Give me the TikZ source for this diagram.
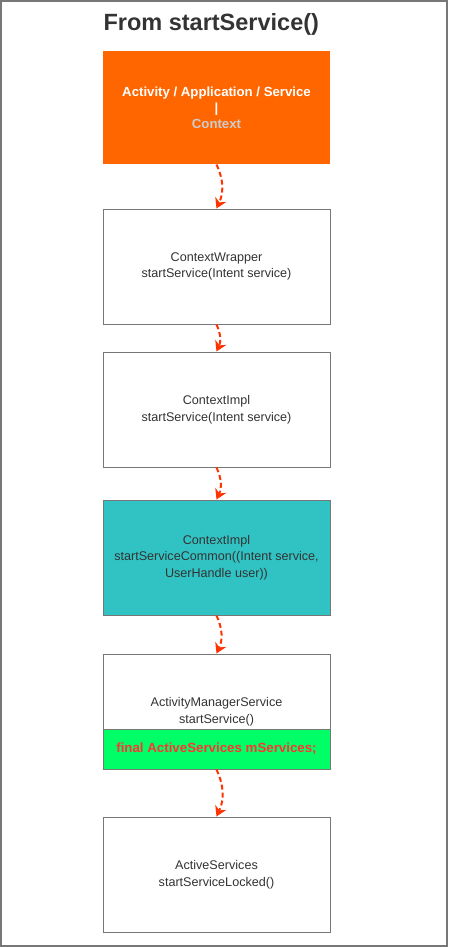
\documentclass[tikz,border=0pt]{standalone}
\usepackage{fontspec}
\setmainfont{Liberation Sans}
\usetikzlibrary{positioning,arrows.meta}
\definecolor{framegray}{HTML}{777777}
\definecolor{textgray}{HTML}{333333}
\definecolor{ctxorange}{HTML}{FF6600}
\definecolor{ctxgray}{HTML}{CCCCCC}
\definecolor{implteal}{HTML}{31C3C3}
\definecolor{bandgreen}{HTML}{00FF66}
\definecolor{bandred}{HTML}{FF3333}
\definecolor{flowred}{HTML}{FF3300}

\begin{document}
\begin{tikzpicture}[x=1pt,y=-1pt,
    box/.style={draw=framegray, line width=1pt, fill=white, minimum width=227pt,
        minimum height=115pt, inner sep=0pt, align=center, text=textgray,
        font=\fontsize{12.6}{16.5}\selectfont},
    flow/.style={draw=flowred, line width=2pt, dash pattern=on 5pt off 3pt,
        -{Stealth[length=10pt,width=12pt]}, bend left=25}]
        \useasboundingbox (0,0) rectangle (448,947);
        \draw [framegray, line width=1.5pt] (1,1) rectangle (447,946);

        \node [anchor=west, text=textgray, font=\fontsize{23.5}{26}\selectfont\bfseries] (title) at (100,24) {From startService()};

        \node [box, draw=none, fill=ctxorange, minimum height=113pt, text=white,
            font=\fontsize{13.2}{16}\selectfont\bfseries] (ctx) at (216.5,107.5)
            {Activity / Application / Service\\|\\\textcolor{ctxgray}{Context}};
        \node [box] (wrapper) at (216.5,266.5) {ContextWrapper\\startService(Intent service)};
        \node [box] (impl) at (216.5,409.5) {ContextImpl\\startService(Intent service)};
        \node [box, fill=implteal] (common) at (216.5,557.5)
            {ContextImpl\\startServiceCommon((Intent service,\\UserHandle user))};
        \node [box] (ams) at (216.5,711.5) {ActivityManagerService\\startService()};
        \node [box, fill=bandgreen, minimum height=40pt, anchor=south, text=bandred,
            font=\fontsize{13.3}{16}\selectfont\bfseries] (band) at (ams.south)
            {final ActiveServices mServices;};
        \node [box] (active) at (216.5,874.5) {ActiveServices\\startServiceLocked()};

        \draw [flow] (ctx.south) to (wrapper.north);
        \draw [flow] (wrapper.south) to (impl.north);
        \draw [flow] (impl.south) to (common.north);
        \draw [flow] (common.south) to (ams.north);
        \draw [flow] (band.south) to (active.north);
    \end{tikzpicture}
\end{document}
